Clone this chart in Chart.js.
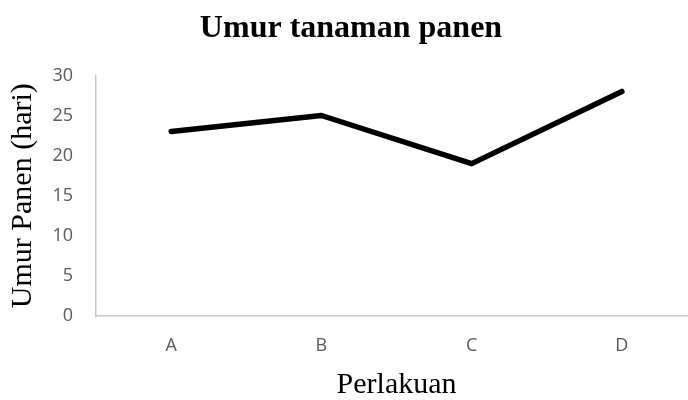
<!DOCTYPE html>
<html>
<head>
<meta charset="utf-8">
<script src="https://cdn.jsdelivr.net/npm/chart.js@4/dist/chart.umd.min.js"></script>
<style>
html,body{margin:0;padding:0;background:#fff;overflow:hidden;width:688px;height:400px;}
canvas{display:block;}
</style>
</head>
<body>
<canvas id="c" width="697" height="400"></canvas>
<script>
const categories = ["A", "B", "C", "D"];
const umurPanen = [23, 25, 19, 28];
const yTicks = [0, 5, 10, 15, 20, 25, 30];

new Chart(document.getElementById('c'), {
  type: 'line',
  data: {
    labels: categories,
    datasets: [{
      data: umurPanen,
      borderColor: '#000000',
      borderWidth: 5.5,
      borderCapStyle: 'round',
      borderJoinStyle: 'round',
      pointRadius: 0,
      tension: 0,
      fill: false
    }]
  },
  options: {
    responsive: false,
    animation: false,
    layout: { padding: { top: 10, right: 0, bottom: 0, left: 5 } },
    plugins: {
      legend: { display: false },
      tooltip: { enabled: false },
      title: {
        display: true,
        text: 'Umur tanaman panen',
        color: '#000',
        font: { family: '"Liberation Serif", "Times New Roman", serif', size: 32, weight: 'bold' },
        padding: { top: 0, bottom: 27 }
      }
    },
    scales: {
      x: {
        offset: true,
        grid: { display: false, drawTicks: false },
        border: { display: true, color: '#c8c8c8', width: 1.5 },
        ticks: { color: '#595959', font: { family: '"Open Sans", sans-serif', size: 18 }, padding: 19 },
        title: {
          display: true, text: 'Perlakuan', color: '#000',
          font: { family: '"Liberation Serif", "Times New Roman", serif', size: 30 },
          padding: { top: -8.6, bottom: -3 }
        }
      },
      y: {
        min: 0, max: 30,
        afterBuildTicks: (axis) => { axis.ticks = yTicks.map(v => ({ value: v })); },
        grid: { display: false, drawTicks: false },
        border: { display: true, color: '#c8c8c8', width: 1.5 },
        ticks: { color: '#595959', font: { family: '"Open Sans", sans-serif', size: 18 }, padding: 23 },
        title: {
          display: true, text: 'Umur Panen (hari)', color: '#000',
          font: { family: '"Liberation Serif", "Times New Roman", serif', size: 30 },
          padding: { top: 0, bottom: -11.5 }
        }
      }
    }
  }
});
</script>
</body>
</html>
